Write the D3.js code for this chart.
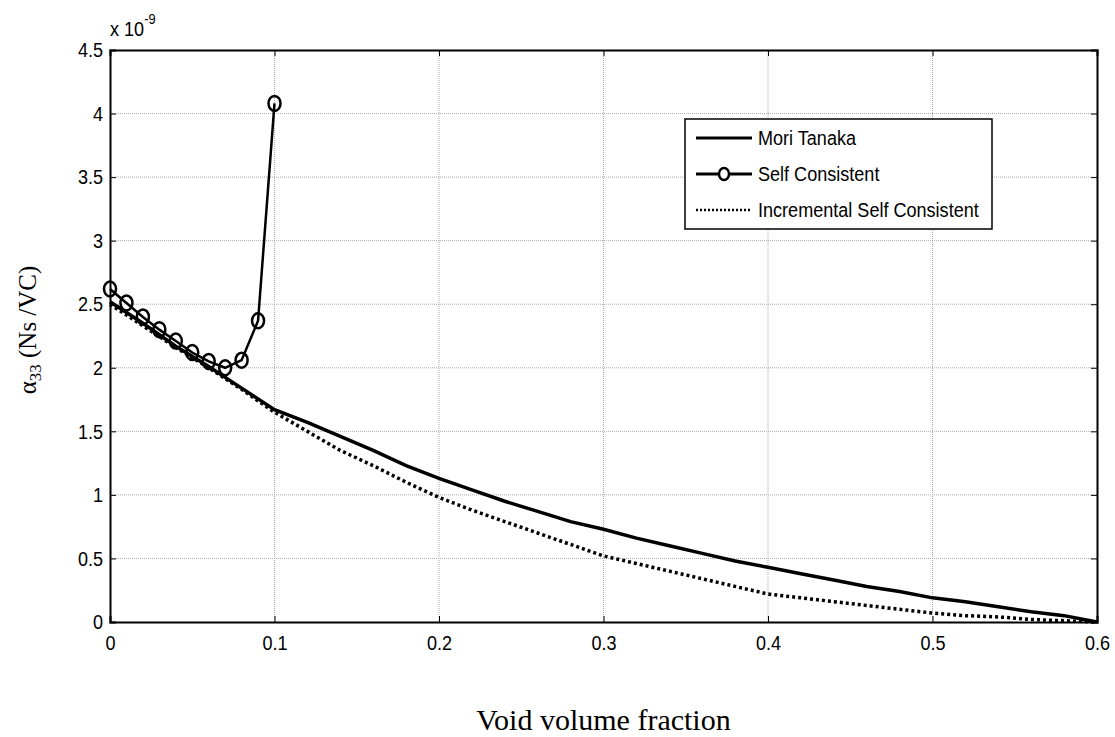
<!DOCTYPE html>
<html>
<head>
<meta charset="utf-8">
<script src="https://cdn.jsdelivr.net/npm/d3@7"></script>
<style>
  body { margin: 0; background: #fff; }
  svg { display: block; }
</style>
</head>
<body>
<svg id="chart"></svg>
<script>
// values (units of 1e-9)
const mtX = d3.range(0, 0.6001, 0.02);
const moriTanaka = [2.52, 2.35, 2.17, 2.01, 1.84, 1.67, 1.57, 1.46, 1.35, 1.23, 1.13,
  1.04, 0.95, 0.87, 0.79, 0.73, 0.66, 0.60, 0.54, 0.48, 0.43,
  0.38, 0.33, 0.28, 0.24, 0.19, 0.16, 0.12, 0.08, 0.05, 0.00];
const incremental = [2.50, 2.33, 2.16, 2.00, 1.83, 1.65, 1.50, 1.35, 1.23, 1.10, 0.98,
  0.88, 0.79, 0.70, 0.61, 0.52, 0.46, 0.40, 0.34, 0.28, 0.22,
  0.19, 0.16, 0.13, 0.10, 0.07, 0.05, 0.04, 0.02, 0.01, 0.00];
const scX = [0, 0.01, 0.02, 0.03, 0.04, 0.05, 0.06, 0.07, 0.08, 0.09, 0.1];
const selfConsistent = [2.62, 2.51, 2.40, 2.30, 2.21, 2.12, 2.05, 2.00, 2.06, 2.37, 4.08];
const xTicks = [0, 0.1, 0.2, 0.3, 0.4, 0.5, 0.6];
const yTicks = [0, 0.5, 1, 1.5, 2, 2.5, 3, 3.5, 4, 4.5];
const legendNames = ['Mori Tanaka', 'Self Consistent', 'Incremental Self Consistent'];

const W = 1115, H = 737;
const margin = { top: 50, right: 18, bottom: 115, left: 110 };
const width = W - margin.left - margin.right;
const height = H - margin.top - margin.bottom;
const squeeze = 0.86; // reference font is narrower than Liberation Sans

const svg = d3.select('#chart').attr('width', W).attr('height', H);
const g = svg.append('g').attr('transform', `translate(${margin.left},${margin.top})`);

const x = d3.scaleLinear().domain([0, 0.6]).range([0, width]);
const y = d3.scaleLinear().domain([0, 4.5]).range([height, 0]);

// grid
g.append('g').selectAll('line').data(xTicks.slice(1, -1)).join('line')
  .attr('x1', d => x(d)).attr('x2', d => x(d)).attr('y1', 0).attr('y2', height)
  .attr('stroke', '#aaa').attr('stroke-width', 1).attr('stroke-dasharray', '1,1');
g.append('g').selectAll('line').data(yTicks.slice(1, -1)).join('line')
  .attr('y1', d => y(d)).attr('y2', d => y(d)).attr('x1', 0).attr('x2', width)
  .attr('stroke', '#aaa').attr('stroke-width', 1).attr('stroke-dasharray', '1,1');

// axes with inward ticks
const tickFont = '"Liberation Sans", Arial, sans-serif';
const xAxis = g.append('g').attr('transform', `translate(0,${height})`)
  .call(d3.axisBottom(x).tickValues(xTicks).tickFormat(d3.format('')).tickSize(-6).tickPadding(13));
const yAxis = g.append('g')
  .call(d3.axisLeft(y).tickValues(yTicks).tickFormat(d3.format('')).tickSize(-6).tickPadding(8));
g.append('g').call(d3.axisTop(x).tickValues(xTicks).tickFormat('').tickSize(-6));
g.append('g').attr('transform', `translate(${width},0)`)
  .call(d3.axisRight(y).tickValues(yTicks).tickFormat('').tickSize(-6));
g.selectAll('.domain').attr('stroke', '#000').attr('stroke-width', 2);
g.selectAll('.tick line').attr('stroke', '#000').attr('stroke-width', 1);
[xAxis, yAxis].forEach(a => a.selectAll('text')
  .style('font-family', tickFont).style('font-size', '21px').attr('fill', '#000')
  .attr('transform', `scale(${squeeze},1)`));

// exponent label
const expo = svg.append('text').attr('transform', `translate(${margin.left},36) scale(${squeeze},1)`)
  .style('font-family', tickFont).style('font-size', '21px');
expo.append('tspan').text('x 10');
expo.append('tspan').attr('dy', -12).style('font-size', '15px').text('-9');

// lines
const line = d3.line().x(d => x(d[0])).y(d => y(d[1]));
g.append('path').datum(d3.zip(mtX, moriTanaka)).attr('d', line)
  .attr('fill', 'none').attr('stroke', '#000').attr('stroke-width', 3.5);
g.append('path').datum(d3.zip(mtX, incremental)).attr('d', line)
  .attr('fill', 'none').attr('stroke', '#000').attr('stroke-width', 3.5)
  .attr('stroke-dasharray', '3,3');
g.append('path').datum(d3.zip(scX, selfConsistent)).attr('d', line)
  .attr('fill', 'none').attr('stroke', '#000').attr('stroke-width', 2.5);
g.append('g').selectAll('ellipse').data(d3.zip(scX, selfConsistent)).join('ellipse')
  .attr('cx', d => x(d[0])).attr('cy', d => y(d[1]))
  .attr('rx', 6).attr('ry', 7.5)
  .attr('fill', 'none').attr('stroke', '#000').attr('stroke-width', 2.5);

// legend
const lg = svg.append('g').attr('transform', 'translate(685,119)');
lg.append('rect').attr('width', 307).attr('height', 110)
  .attr('fill', '#fff').attr('stroke', '#000').attr('stroke-width', 1.5);
legendNames.forEach((name, i) => {
  const yy = 19 + i * 36;
  const l = lg.append('line').attr('x1', 11).attr('x2', 67).attr('y1', yy).attr('y2', yy)
    .attr('stroke', '#000').attr('stroke-width', i === 2 ? 2.5 : 3);
  if (i === 2) l.attr('stroke-dasharray', '2,2');
  if (i === 1) lg.append('ellipse').attr('cx', 39).attr('cy', yy).attr('rx', 5).attr('ry', 6)
    .attr('fill', '#fff').attr('stroke', '#000').attr('stroke-width', 2.5);
  lg.append('text').attr('transform', `translate(73,${yy}) scale(${squeeze},1)`)
    .attr('dy', '0.35em').text(name)
    .style('font-family', tickFont).style('font-size', '21px');
});

// axis titles
const serif = '"Liberation Serif", "Times New Roman", serif';
svg.append('text').attr('x', margin.left + width / 2).attr('y', 730)
  .attr('text-anchor', 'middle').style('font-family', serif).style('font-size', '30px')
  .text('Void volume fraction');
const yl = svg.append('text').attr('transform', `translate(36,330) rotate(-90)`)
  .attr('text-anchor', 'middle').style('font-family', serif).style('font-size', '25px');
yl.append('tspan').text('α');
yl.append('tspan').attr('dy', 5).style('font-size', '17px').text('33');
yl.append('tspan').attr('dy', -5).text(' (Ns /VC)');
</script>
</body>
</html>
